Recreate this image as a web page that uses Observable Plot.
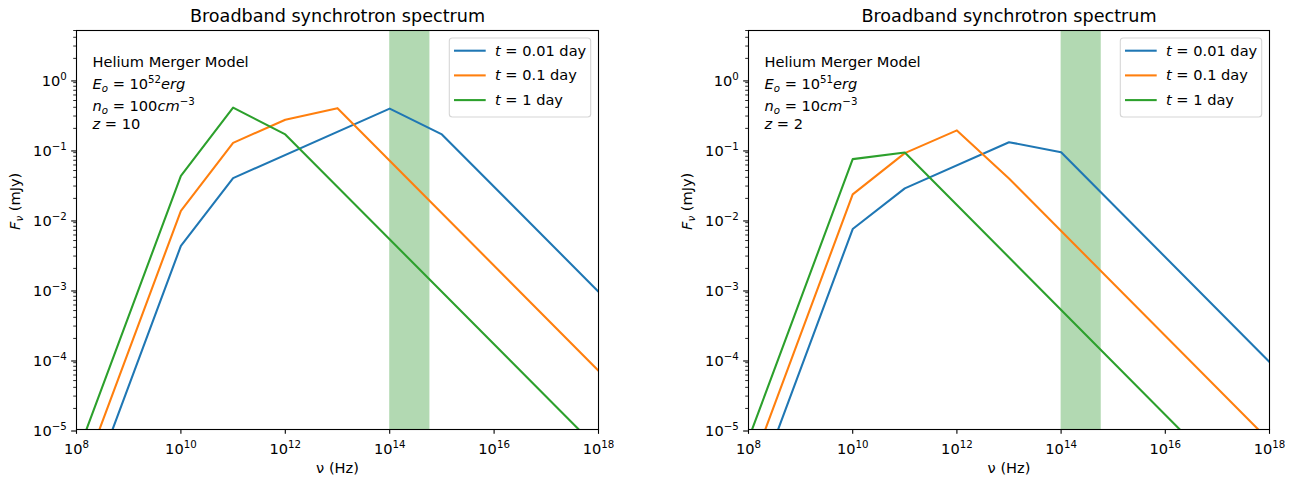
<!DOCTYPE html>
<html>
<head>
<meta charset="utf-8">
<script src="https://cdn.jsdelivr.net/npm/d3@7"></script>
<script src="https://cdn.jsdelivr.net/npm/@observablehq/plot@0.6"></script>
<style>
  html, body { margin: 0; padding: 0; background: white; }
  #wrap { position: relative; width: 1295px; height: 480px; overflow: hidden; }
  #wrap > svg { position: absolute; top: 0; }
</style>
</head>
<body>
<div id="wrap"></div>
<script>
// ---------- data ----------
const seriesLabels = ["{i:t} = 0.01 day", "{i:t} = 0.1 day", "{i:t} = 1 day"];
const seriesColors = ["#1f77b4", "#ff7f0e", "#2ca02c"];
const panelTitle = "Broadband synchrotron spectrum";
const xLabel = "ν (Hz)";
const yLabel = "{i:F}{isub:ν} (mJy)";

// Panel A: E = 1e52 erg, n = 100 cm^-3, z = 10
const notesA = ["Helium Merger Model", "{i:E}{isub:o} = 10{sup:52}{i:erg}", "{i:n}{isub:o} = 100{i:cm}{sup:−3}", "{i:z} = 10"];
const nuA1 = [4.9e8, 1e10, 1e11, 1e14, 1e15, 1e18];
const fA1  = [1e-5, 4.2e-3, 0.039, 0.383, 0.164, 9.3e-4];
const nuA2 = [2.75e8, 1e10, 1e11, 1e12, 1e13, 1e18];
const fA2  = [1e-5, 0.0133, 0.124, 0.266, 0.389, 6.9e-5];
const nuA3 = [1.55e8, 1e10, 1e11, 1e12, 4.2e17];
const fA3  = [1e-5, 0.042, 0.396, 0.164, 1e-5];

// Panel B: E = 1e51 erg, n = 10 cm^-3, z = 2
const notesB = ["Helium Merger Model", "{i:E}{isub:o} = 10{sup:51}{i:erg}", "{i:n}{isub:o} = 10{i:cm}{sup:−3}", "{i:z} = 2"];
const nuB1 = [3.7e8, 1e10, 1e11, 1e13, 1e14, 1e18];
const fB1  = [1e-5, 7.3e-3, 0.0278, 0.127, 0.0912, 9.2e-5];
const nuB2 = [2.1e8, 1e10, 1e11, 1e12, 1e13, 6.1e17];
const fB2  = [1e-5, 0.0228, 0.0887, 0.187, 0.0385, 1e-5];
const nuB3 = [1.17e8, 1e10, 1e11, 1.9e16];
const fB3  = [1e-5, 0.0728, 0.0906, 1e-5];

// shaded band (Hz)
const bandLo = 1e14, bandHi = 5.9e14;

// ticks
const xTicks = [1e8, 1e10, 1e12, 1e14, 1e16, 1e18];
const yTicks = [1e-5, 1e-4, 1e-3, 1e-2, 1e-1, 1e0];
const yMinor = [];
for (let e = -5; e <= 0; e++) for (let m = 2; m <= 9; m++) { const v = m * Math.pow(10, e); if (v <= 5) yMinor.push(v); }

// ---------- drawing ----------
const W = 647, H = 480, MT = 30, MB = 51;
const FS = 14.6;
const noteDy = [36, 58, 80, 98];
const fmtPow = d => "10^" + Math.round(Math.log10(d));

function rich(el) {
  const s = el.textContent;
  let segs = null;
  const m = s.match(/^10\^(-?\d+)$/);
  if (m) segs = [["", "10"], ["sup", m[1].replace("-", "−")]];
  else if (s.includes("{")) {
    segs = [];
    const re = /\{(\w+):([^}]*)\}/g; let last = 0, r;
    while ((r = re.exec(s))) {
      if (r.index > last) segs.push(["", s.slice(last, r.index)]);
      segs.push([r[1], r[2]]); last = re.lastIndex;
    }
    if (last < s.length) segs.push(["", s.slice(last)]);
  }
  if (!segs) return;
  const fs = parseFloat(getComputedStyle(el).fontSize) || FS;
  el.textContent = "";
  el.style.whiteSpace = "pre";
  let cur = 0;
  for (const [st, t] of segs) {
    const ts = document.createElementNS("http://www.w3.org/2000/svg", "tspan");
    const sup = st.includes("sup"), sub = st.includes("sub");
    const shift = sup ? -0.38 * fs : sub ? 0.22 * fs : 0;
    if (shift !== cur) ts.setAttribute("dy", (shift - cur).toFixed(2));
    cur = shift;
    if (sup || sub) ts.setAttribute("font-size", (0.7 * fs).toFixed(2));
    if (st.startsWith("i")) ts.setAttribute("font-style", "italic");
    ts.textContent = t;
    el.appendChild(ts);
  }
}

function panel({ml, mr, left, series, notes}) {
  const rows = series.flatMap((s, i) => s.nu.map((nu, j) => ({nu, f: s.f[j], k: seriesLabels[i]})));
  const svg = Plot.plot({
    width: W, height: H,
    marginLeft: ml, marginRight: mr, marginTop: MT, marginBottom: MB,
    x: {type: "log", domain: [1e8, 1e18]},
    y: {type: "log", domain: [1e-5, 5]},
    color: {domain: seriesLabels, range: seriesColors},
    style: {fontFamily: "'DejaVu Sans', sans-serif", fontSize: FS + "px", color: "black", background: "white", overflow: "visible"},
    marks: [
      Plot.rect([{lo: bandLo, hi: bandHi}], {x1: "lo", x2: "hi", fill: "green", fillOpacity: 0.3}),
      Plot.line(rows, {x: "nu", y: "f", z: "k", stroke: "k", strokeWidth: 2.08, clip: true}),
      Plot.frame({stroke: "black", strokeWidth: 1.1}),
      Plot.axisX(xTicks, {tickSize: 4.86, tickPadding: 9.1, tickFormat: fmtPow, label: null, strokeWidth: 1.1}),
      Plot.axisY(yTicks, {tickSize: 4.86, tickPadding: 4.86, tickFormat: fmtPow, label: null, strokeWidth: 1.1, dy: 1.5}),
      Plot.axisY(yMinor, {tickSize: 2.8, tickFormat: () => "", label: null, strokeWidth: 0.83}),
      Plot.text([panelTitle], {text: d => d, frameAnchor: "top", dy: -9, lineAnchor: "bottom", fontSize: 17.6}),
      Plot.text([xLabel], {text: d => d, frameAnchor: "bottom", dy: 43, lineAnchor: "bottom"}),
      Plot.text([yLabel], {text: d => d, frameAnchor: "left", dx: -57, rotate: -90, lineAnchor: "bottom"}),
      ...notes.map((t, i) => Plot.text([t], {text: d => d, frameAnchor: "top-left", dx: 16, dy: noteDy[i], textAnchor: "start", lineAnchor: "bottom"}))
    ]
  });
  // legend
  const fr = W - mr;
  const bw = 141.4, bx = fr - 7.3 - bw, by = MT + 8, bh = 79;
  const g = d3.select(svg).append("g").attr("aria-label", "legend");
  g.append("rect").attr("x", bx).attr("y", by).attr("width", bw).attr("height", bh)
    .attr("rx", 3).attr("fill", "white").attr("fill-opacity", 0.8).attr("stroke", "#d6d6d6").attr("stroke-width", 1.1);
  seriesLabels.forEach((lab, i) => {
    const ly = by + 12.7 + i * 24.7;
    g.append("line").attr("x1", bx + 4.7).attr("x2", bx + 36.4).attr("y1", ly).attr("y2", ly)
      .attr("stroke", seriesColors[i]).attr("stroke-width", 2.08);
    g.append("text").attr("x", bx + 45.7).attr("y", ly + 5).attr("text-anchor", "start").text(lab);
  });
  d3.select(svg).selectAll("text").each(function () {
    if (this.textContent === "") this.remove(); else rich(this);
  });
  svg.style.left = left + "px";
  document.getElementById("wrap").appendChild(svg);
}

panel({ml: 76, mr: 49, left: 0, notes: notesA,
  series: [{nu: nuA1, f: fA1}, {nu: nuA2, f: fA2}, {nu: nuA3, f: fA3}]});
panel({ml: 100, mr: 26, left: 648, notes: notesB,
  series: [{nu: nuB1, f: fB1}, {nu: nuB2, f: fB2}, {nu: nuB3, f: fB3}]});
</script>
</body>
</html>
